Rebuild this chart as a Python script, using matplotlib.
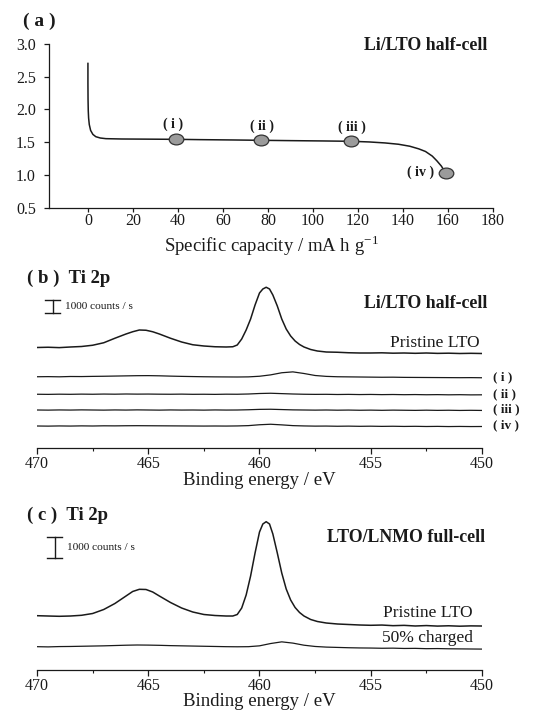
import matplotlib
matplotlib.use('Agg')
import matplotlib.pyplot as plt
from matplotlib.path import Path
from matplotlib.transforms import Affine2D

plt.rcParams['font.family'] = ['Liberation Serif', 'DejaVu Serif']
plt.rcParams['mathtext.fontset'] = 'custom'
plt.rcParams['mathtext.rm'] = 'Liberation Serif'

# ---- (a) discharge curve, Li/LTO half-cell ----
capacity = [0, 0, 0.05, 0.15, 0.3, 0.6, 1.2, 2.2, 3.5, 5.5, 8, 15, 25, 39, 50, 65, 77, 90,
            105, 117, 125, 132, 138, 143, 147, 150, 153, 155, 157, 159]
voltage = [2.70, 2.40, 2.15, 1.98, 1.87, 1.77, 1.68, 1.62, 1.585, 1.565, 1.555, 1.55, 1.548,
           1.545, 1.54, 1.535, 1.53, 1.525, 1.52, 1.515, 1.505, 1.49, 1.47, 1.44, 1.40, 1.36,
           1.29, 1.22, 1.14, 1.035]
point_cap = [39, 77, 117, 159]
point_volt = [1.545, 1.53, 1.515, 1.035]
point_labels = ['( i )', '( ii )', '( iii )', '( iv )']
label_cap = [38, 77.5, 117.5, 154]
label_volt = [1.77, 1.75, 1.73, 1.04]

# ---- XPS Ti 2p spectra ----
energy_fine = [470, 469.5, 469, 468.5, 468, 467.5, 467, 466.5, 466, 465.7, 465.4, 465.1, 464.8,
               464.5, 464, 463.5, 463, 462.5, 462, 461.5, 461.2, 461, 460.8, 460.6, 460.4, 460.2,
               460.0, 459.85, 459.7, 459.55, 459.4, 459.2, 459.0, 458.8, 458.6, 458.4, 458.2,
               458, 457.7, 457.4, 457, 456.5, 456, 455.5, 455, 454.5, 454, 453.5, 453, 452.5,
               452, 451.5, 451, 450.5, 450]
energy_coarse = [470, 469.5, 469, 468.5, 468, 467.5, 467, 466.5, 466, 465.5, 465, 464.5, 464,
                 463.5, 463, 462.5, 462, 461.5, 461, 460.5, 460, 459.5, 459, 458.5, 458, 457.5,
                 457, 456.5, 456, 455.5, 455, 454.5, 454, 453.5, 453, 452.5, 452, 451.5, 451,
                 450.5, 450]

# (b) half-cell, counts/s (stacked)
half_pristine = [8040, 8060, 8030, 8080, 8120, 8220, 8420, 8780, 9120, 9300, 9440, 9420, 9300,
                 9120, 8780, 8480, 8260, 8160, 8100, 8080, 8100, 8240, 8720, 9440, 10320, 11440,
                 12400, 12720, 12860, 12720, 12240, 11360, 10320, 9520, 8960, 8560, 8280, 8080,
                 7880, 7760, 7680, 7660, 7620, 7600, 7600, 7615, 7585, 7600, 7575, 7600, 7570,
                 7585, 7560, 7575, 7560]
half_i = [5700, 5710, 5695, 5720, 5715, 5730, 5740, 5755, 5770, 5785, 5790, 5775, 5750, 5730,
          5715, 5700, 5690, 5685, 5680, 5690, 5740, 5850, 6020, 6090, 5960, 5800, 5730, 5700,
          5690, 5680, 5670, 5660, 5665, 5650, 5645, 5640, 5635, 5630, 5625, 5630, 5620]
half_ii = [4300, 4290, 4305, 4295, 4310, 4300, 4315, 4305, 4320, 4310, 4315, 4305, 4300, 4310,
           4295, 4300, 4290, 4305, 4300, 4320, 4360, 4380, 4350, 4320, 4300, 4290, 4295, 4280,
           4290, 4275, 4285, 4270, 4280, 4265, 4275, 4260, 4270, 4255, 4265, 4250, 4255]
half_iii = [3040, 3030, 3045, 3035, 3050, 3040, 3030, 3045, 3035, 3050, 3040, 3030, 3045, 3035,
            3040, 3030, 3045, 3035, 3040, 3060, 3090, 3100, 3075, 3050, 3040, 3030, 3040, 3025,
            3035, 3020, 3030, 3015, 3030, 3020, 3010, 3025, 3010, 3020, 3005, 3015, 3005]
half_iv = [1760, 1750, 1765, 1755, 1770, 1760, 1775, 1770, 1780, 1785, 1780, 1775, 1770, 1765,
           1760, 1755, 1760, 1755, 1765, 1790, 1860, 1900, 1850, 1790, 1765, 1750, 1755, 1740,
           1750, 1735, 1745, 1730, 1740, 1725, 1735, 1720, 1730, 1715, 1725, 1715, 1720]
half_names = ['( i )', '( ii )', '( iii )', '( iv )']

# (c) full-cell, counts/s (stacked)
full_pristine = [2585, 2570, 2556, 2570, 2604, 2689, 2880, 3165, 3522, 3737, 3841, 3832, 3713,
                 3522, 3213, 2951, 2761, 2642, 2594, 2570, 2570, 2642, 2951, 3570, 4474, 5569,
                 6569, 6950, 7059, 6950, 6474, 5569, 4617, 3856, 3332, 2975, 2737, 2570, 2404,
                 2309, 2237, 2190, 2166, 2142, 2128, 2140, 2110, 2125, 2095, 2115, 2090, 2105,
                 2085, 2100, 2094]
full_charged = [1110, 1100, 1115, 1120, 1130, 1140, 1150, 1165, 1180, 1190, 1185, 1175, 1160,
                1150, 1140, 1130, 1120, 1110, 1105, 1110, 1150, 1260, 1340, 1280, 1180, 1120,
                1090, 1075, 1060, 1050, 1045, 1035, 1040, 1025, 1030, 1015, 1020, 1010, 1005,
                1000, 995]

W, H = 542, 711
fig = plt.figure(figsize=(W / 100, H / 100), dpi=100)
ink = '#1a1a1a'


def px(x, y):
    return x / W, 1 - y / H


def axes_px(left, top, right, bottom):
    return fig.add_axes([left / W, 1 - bottom / H, (right - left) / W, (bottom - top) / H])


# ---------------- panel (a) ----------------
ax1 = axes_px(49, 43.7, 493, 208)
ax1.plot(capacity, voltage, color=ink, lw=1.1)
ellipse = Path.unit_circle().transformed(Affine2D().scale(1.35, 1.0))
ax1.plot(point_cap, point_volt, ls='none', marker=ellipse, ms=10.5,
         mfc='#9b9b9b', mec='#333333', mew=0.9)
for xc, yc, lab, i in zip(label_cap, label_volt, point_labels, range(4)):
    ax1.text(xc, yc, lab, ha='right' if i == 3 else 'center', va='center',
             fontsize=10, fontweight='bold', color=ink)
ax1.set_xlim(-17.3, 180)
ax1.set_ylim(0.5, 3.0)
ax1.set_xticks(range(0, 181, 20))
ax1.set_yticks([0.5, 1.0, 1.5, 2.0, 2.5, 3.0])
ax1.set_yticklabels(['0.5', '1.0', '1.5', '2.0', '2.5', '3.0'])
ax1.tick_params(direction='out', length=3.5, width=0.9, labelsize=11.5, colors=ink)
ax1.tick_params(axis='x', length=2.8, pad=0.8)
ax1.tick_params(axis='y', pad=6)
for s in ['top', 'right']:
    ax1.spines[s].set_visible(False)
for s in ['left', 'bottom']:
    ax1.spines[s].set_linewidth(0.9)
    ax1.spines[s].set_color(ink)
ax1.set_xlabel('Specific capacity / mA h g$^{-1}$', fontsize=13.5, color=ink, labelpad=3)

fig.text(*px(23, 21), '( a )', fontsize=14, fontweight='bold', va='center', color=ink)
fig.text(*px(487, 45), 'Li/LTO half-cell', fontsize=12.8, fontweight='bold',
         ha='right', va='center', color=ink)


def spectrum_axes(top, bottom, ymax, labelpad):
    ax = axes_px(37, top, 482, bottom)
    ax.set_xlim(470, 450)
    ax.set_ylim(0, ymax)
    ax.set_xticks([470, 465, 460, 455, 450])
    ax.set_xticks([467.5, 462.5, 457.5, 452.5], minor=True)
    ax.set_yticks([])
    for s in ['top', 'right', 'left']:
        ax.spines[s].set_visible(False)
    ax.spines['bottom'].set_linewidth(0.9)
    ax.spines['bottom'].set_color(ink)
    ax.tick_params(axis='x', which='major', direction='out', length=4, width=0.9,
                   labelsize=11.5, colors=ink, pad=2)
    ax.tick_params(axis='x', which='minor', direction='out', length=2.5, width=0.8, colors=ink)
    ax.set_xlabel('Binding energy / eV', fontsize=13.5, color=ink, labelpad=labelpad)
    return ax


def scale_bar(ax, x, y0, label):
    ax.plot([x, x], [y0, y0 + 1000], color=ink, lw=1.0)
    ax.plot([x - 0.33, x + 0.33], [y0, y0], color=ink, lw=1.0)
    ax.plot([x - 0.33, x + 0.33], [y0 + 1000, y0 + 1000], color=ink, lw=1.0)
    ax.text(x - 0.55, y0 + 500, label, fontsize=8.2, va='center', ha='left', color=ink)


# ---------------- panel (b) ----------------
ax2 = spectrum_axes(282, 448, 13280, 0)
ax2.plot(energy_fine, half_pristine, color=ink, lw=1.1)
for series, name in zip([half_i, half_ii, half_iii, half_iv], half_names):
    ax2.plot(energy_coarse, series, color=ink, lw=0.9)
    ax2.text(449.5, series[-1] + 60, name, fontsize=9.5, fontweight='bold',
             ha='left', va='center', color=ink, clip_on=False)
ax2.text(450.1, 8400, 'Pristine LTO', fontsize=12.5, ha='right', va='center', color=ink)
scale_bar(ax2, 469.3, 10840, '1000 counts / s')
fig.text(*px(27, 278), '( b )  Ti 2p', fontsize=13.5, fontweight='bold', va='center', color=ink)
fig.text(*px(487, 304), 'Li/LTO half-cell', fontsize=12.8, fontweight='bold',
         ha='right', va='center', color=ink)

# ---------------- panel (c) ----------------
ax3 = spectrum_axes(515, 670, 7378, -1)
ax3.plot(energy_fine, full_pristine, color=ink, lw=1.1)
ax3.plot(energy_coarse, full_charged, color=ink, lw=0.9)
ax3.text(450.4, 2700, 'Pristine LTO', fontsize=12.5, ha='right', va='center', color=ink)
ax3.text(450.4, 1509, '50% charged', fontsize=12.5, ha='right', va='center', color=ink)
scale_bar(ax3, 469.2, 5331, '1000 counts / s')
fig.text(*px(27, 515), '( c )  Ti 2p', fontsize=13.5, fontweight='bold', va='center', color=ink)
fig.text(*px(485, 538), 'LTO/LNMO full-cell', fontsize=12.8, fontweight='bold',
         ha='right', va='center', color=ink)

fig.savefig('out.png', dpi=100, facecolor='white')
